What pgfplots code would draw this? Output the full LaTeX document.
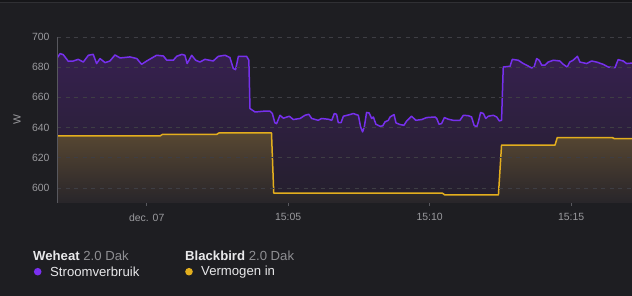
\documentclass[border=0pt]{standalone}
\usepackage{pgfplots}
\pgfplotsset{compat=1.18}
\usepackage{pgfplotstable}
\usepackage{fontspec}
\setmainfont{Liberation Sans}
\definecolor{bg}{HTML}{1E1E22}
\definecolor{topbar}{HTML}{161619}
\definecolor{topline}{HTML}{303034}
\definecolor{grid}{HTML}{3E3E44}
\definecolor{axisc}{HTML}{58585E}
\definecolor{tickc}{HTML}{9A9A9E}
\definecolor{purp}{HTML}{7630EC}
\definecolor{purptop}{HTML}{36204F}
\definecolor{purpbot}{HTML}{241F2C}
\definecolor{yel}{HTML}{E3AE1E}
\definecolor{yeltop}{HTML}{584832}
\definecolor{yelbot}{HTML}{28252A}
\definecolor{legpurp}{HTML}{7A2FF0}
\definecolor{legyel}{HTML}{E2AE1E}
\definecolor{legtxt}{HTML}{E8E8EA}
\definecolor{leggray}{HTML}{8E8E92}

\pgfplotstableread{
x y
-3.18 685.7
-3.06 689
-2.95 688.3
-2.77 683.9
-2.59 684.1
-2.42 685.2
-2.24 683.4
-2.06 687.9
-1.89 688.5
-1.77 682.4
-1.65 685.7
-1.47 683
-1.30 684.1
-1.12 688.1
-0.94 686.1
-0.59 686.8
-0.35 685.7
-0.18 681.9
0.00 684.1
0.35 687.9
0.59 687.4
0.71 684.6
0.94 684.6
1.06 687.2
1.24 688.5
1.35 687.9
1.43 682.4
1.59 687.9
1.73 684.6
1.88 683.4
2.06 685.2
2.35 684.1
2.53 687.2
2.77 687.9
2.94 686.4
3.06 679.1
3.14 678.4
3.24 687.2
3.53 687.2
3.61 684.6
3.65 652.6
3.83 650.3
4.12 650.8
4.36 650.8
4.44 649.3
4.53 643.1
4.59 642.6
4.71 648.1
4.83 646.2
5.04 647.5
5.18 645.3
5.42 646
5.59 648.1
5.73 648.8
5.83 646
6.06 644.8
6.18 646
6.42 645.5
6.54 644.8
6.63 649.3
6.71 648.8
6.77 643.3
6.87 643.3
6.95 647.5
7.18 648.6
7.30 649.3
7.48 648.1
7.56 640.4
7.63 637.1
7.69 640.4
7.77 650
7.86 649.7
7.95 646
8.01 647
8.10 642.2
8.24 640.9
8.34 641.1
8.42 643.7
8.54 644.8
8.60 647
8.74 648.6
8.81 643.1
8.95 642
9.09 641.5
9.19 644.4
9.36 647.5
9.51 644.8
9.72 645.3
9.89 646.6
10.19 647
10.25 646
10.33 642.2
10.42 642.6
10.52 646.6
10.66 645.5
10.83 644.8
11.07 644.8
11.19 648.1
11.36 647.9
11.48 647
11.57 641.5
11.66 640.4
11.72 643.7
11.80 650
11.90 649.3
11.98 646
12.07 647.5
12.25 648.1
12.37 647
12.46 644.4
12.54 644.8
12.60 680.1
12.84 680.6
12.92 685.2
13.13 684.6
13.31 682.4
13.43 681.3
13.60 679.5
13.69 680.1
13.78 685.7
13.87 684.6
13.96 681.3
14.07 681.3
14.19 683.4
14.37 684.6
14.60 684.1
14.72 681.9
14.86 680.1
14.95 683.4
15.07 684.6
15.22 687.2
15.31 683.4
15.55 682.4
15.72 684.1
15.90 683.4
16.13 681.9
16.31 680.1
16.55 679.7
16.66 685
16.84 684.1
16.96 682.4
17.20 682.8
}\purpledata

\pgfplotstableread{
x y
-3.20 634.4
0.47 634.4
0.55 635.4
2.47 635.4
2.55 636.4
4.41 636.4
4.49 596.5
10.45 596.5
10.53 595.4
12.43 595.4
12.54 628.4
14.43 628.4
14.51 633.4
16.45 633.4
16.53 632.6
17.20 632.6
}\yellowdata

\begin{document}
\begin{tikzpicture}
\useasboundingbox (0,0) rectangle (632bp,296bp);
\fill[bg] (0,0) rectangle (632bp,296bp);
\fill[topbar] (0,294bp) rectangle (632bp,296bp);
\draw[topline, line width=1bp] (0,293.5bp) -- (632bp,293.5bp);
\begin{axis}[
  at={(57bp,93bp)}, anchor=south west,
  width=575bp, height=166bp, scale only axis,
  xmin=-3.17, xmax=17.15, ymin=590, ymax=700,
  axis x line*=bottom, axis y line*=left,
  x axis line style={draw=none},
  y axis line style={draw=axisc, line width=0.8bp},
  xtick={0,5,10,15},
  xticklabels={dec. 07,15:05,15:10,15:15},
  ytick={600,620,...,700},
  ymajorgrids,
  grid style={draw=grid, dash pattern=on 4bp off 4.5bp, line width=0.7bp},
  tick align=outside,
  xtick style={draw=axisc, line width=0.7bp},
  major tick length=3bp,
  ytick style={draw=none},
  ticklabel style={font=\fontsize{10.5}{12}\selectfont, text=tickc},
  /pgf/number format/assume math mode=true,
  xticklabel style={yshift=-4bp},
  yticklabel style={xshift=-1bp},
  clip=true,
  axis on top,
]
\addplot[draw=none, top color=purptop, bottom color=purpbot] table {\purpledata} -- (axis cs:17.2,590) -- (axis cs:-3.2,590) -- cycle;
\addplot[draw=none, top color=yeltop, bottom color=yelbot] table {\yellowdata} -- (axis cs:17.2,590) -- (axis cs:-3.2,590) -- cycle;
\addplot[purp, line width=1.5bp, line join=round, mark=none] table {\purpledata};
\addplot[yel, line width=1.5bp, line join=round, mark=none] table {\yellowdata};
\end{axis}
\node[rotate=90, text=tickc, font=\fontsize{10.5}{12}\selectfont] at (17bp,176bp) {W};
\begin{scope}[font=\fontsize{13.2}{15}\selectfont]
\node[anchor=west, inner sep=0, text=legtxt] at (33bp,40bp) {\bfseries Weheat \textcolor{leggray}{\mdseries 2.0 Dak}};
\fill[legpurp] (37.7bp,24.3bp) circle (3.8bp);
\node[anchor=west, inner sep=0, text=legtxt] at (50bp,24.3bp) {Stroomverbruik};
\node[anchor=west, inner sep=0, text=legtxt] at (185bp,40bp) {\bfseries Blackbird \textcolor{leggray}{\mdseries 2.0 Dak}};
\fill[legyel] (189bp,24.3bp) circle (3.8bp);
\node[anchor=west, inner sep=0, text=legtxt] at (201bp,24.3bp) {Vermogen in};
\end{scope}
\end{tikzpicture}
\end{document}
